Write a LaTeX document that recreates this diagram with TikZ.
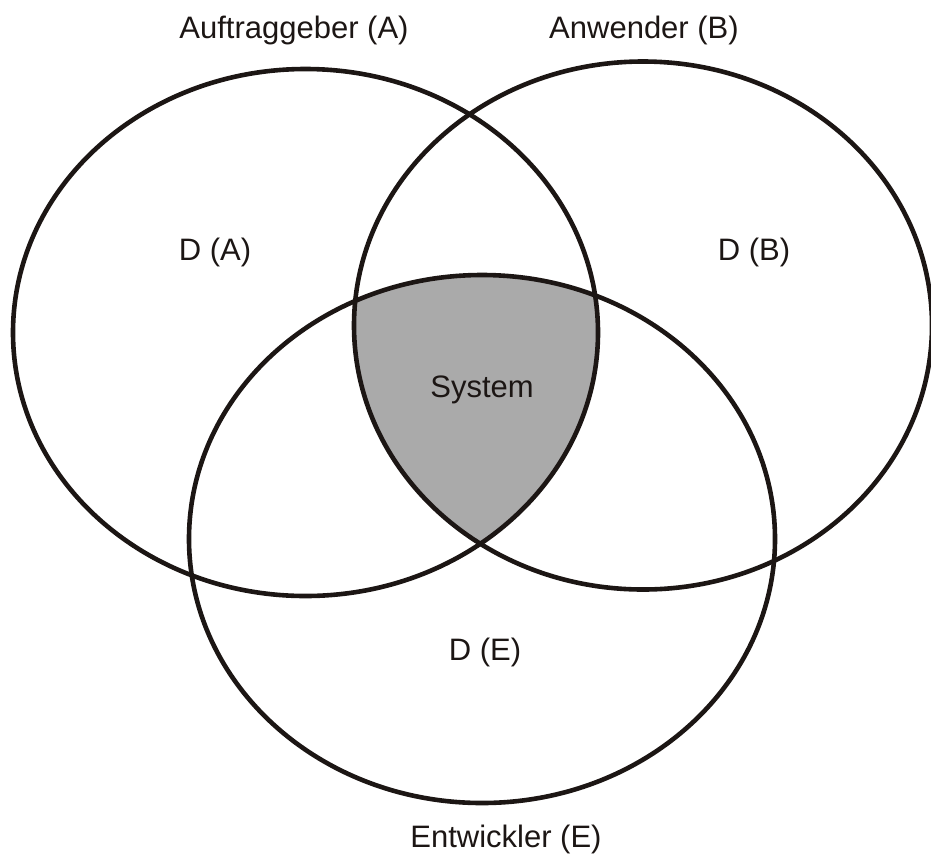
\documentclass[tikz,border=0pt]{standalone}
\usepackage{fontspec}
\setmainfont{Liberation Sans}
\begin{document}
\begin{tikzpicture}[x=1pt,y=-1pt,
  setline/.style={line width=4.6pt,draw={rgb,255:red,28;green,22;blue,20}},
  lbl/.style={font=\fontsize{31}{36}\selectfont,text={rgb,255:red,28;green,22;blue,20},inner sep=0pt}]
  \definecolor{core}{RGB}{170,170,170}
  \clip (0,0) rectangle (931,863);
  % common part of all three sets
  \begin{scope}
    \clip (305.5,332.5) ellipse [x radius=292.5pt, y radius=263.5pt];
    \clip (643,325.5) ellipse [x radius=289pt, y radius=264pt];
    \fill[core] (482,539) ellipse [x radius=293pt, y radius=264pt];
  \end{scope}
  % the three sets
  \draw[setline] (305.5,332.5) ellipse [x radius=292.5pt, y radius=263.5pt];
  \draw[setline] (643,325.5) ellipse [x radius=289pt, y radius=264pt];
  \draw[setline] (482,539) ellipse [x radius=293pt, y radius=264pt];
  % labels
  \node[lbl] (la) at (294,30) {Auftraggeber (A)};
  \node[lbl] (lb) at (644,30) {Anwender (B)};
  \node[lbl] (da) at (215,252) {D (A)};
  \node[lbl] (db) at (754,252) {D (B)};
  \node[lbl] (sys) at (482,390) {System};
  \node[lbl] (de) at (485,652) {D (E)};
  \node[lbl] (le) at (506,839) {Entwickler (E)};
\end{tikzpicture}
\end{document}
